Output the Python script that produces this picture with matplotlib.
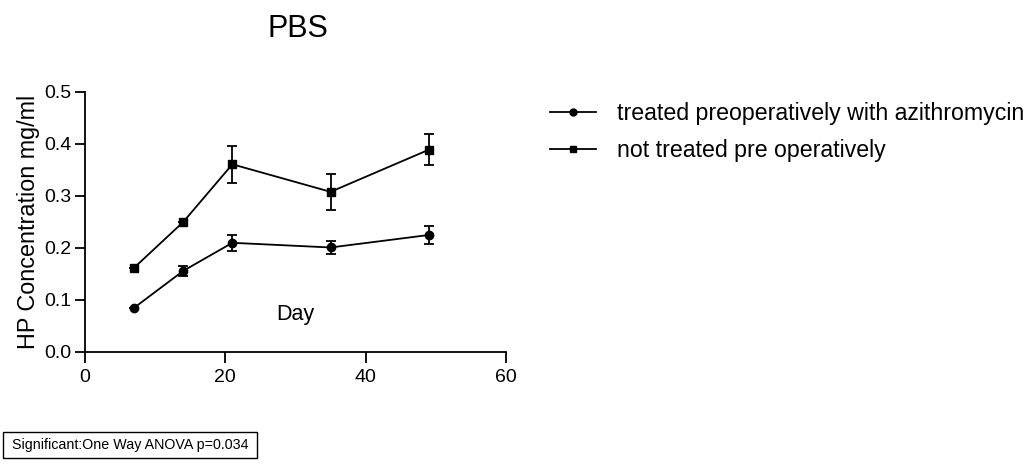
import matplotlib
matplotlib.use("Agg")
import matplotlib.pyplot as plt
from matplotlib.lines import Line2D
from matplotlib.patches import Rectangle

plt.rcParams['font.family'] = ['Liberation Sans', 'DejaVu Sans']

days = [7, 14, 21, 35, 49]
treated = [0.085, 0.156, 0.210, 0.201, 0.225]
treated_err = [0.0, 0.009, 0.015, 0.012, 0.017]
untreated = [0.162, 0.250, 0.361, 0.308, 0.389]
untreated_err = [0.0, 0.0, 0.036, 0.034, 0.030]
labels = ["treated preoperatively with azithromycin", "not treated pre operatively"]
xticks = [0, 20, 40, 60]
yticks = [0.0, 0.1, 0.2, 0.3, 0.4, 0.5]

W, H = 1034, 466
fig = plt.figure(figsize=(W / 100, H / 100), dpi=100)
ax = fig.add_axes([85 / W, (H - 352) / H, 421 / W, 260 / H])

ax.errorbar(days, treated, yerr=treated_err, color='black', lw=1.3, marker='o',
            ms=6, capsize=3.6, elinewidth=1.3, capthick=1.3)
ax.errorbar(days, untreated, yerr=untreated_err, color='black', lw=1.3, marker='s',
            ms=6, capsize=3.6, elinewidth=1.3, capthick=1.3)

ax.set_xlim(0, 60)
ax.set_ylim(0, 0.5)
ax.set_xticks(xticks)
ax.set_yticks(yticks)
ax.set_xticklabels([str(t) for t in xticks])
ax.set_yticklabels([f"{t:.1f}" for t in yticks])
for s in ['top', 'right']:
    ax.spines[s].set_visible(False)
for s in ['left', 'bottom']:
    ax.spines[s].set_linewidth(1.3)
ax.tick_params(axis='x', labelsize=14, width=1.3, length=8, direction='out', pad=4)
ax.tick_params(axis='y', labelsize=14, width=1.3, length=7, direction='out', pad=3)
ax.set_ylabel("HP Concentration mg/ml", fontsize=16.8, labelpad=3)
ax.text(30, 0.073, "Day", fontsize=15.5, ha='center', va='center')

fig.text(298 / W, 1 - 37 / H, "PBS", fontsize=22, ha='center', va='baseline')

lh = [Line2D([], [], color='black', lw=1.3, marker='o', ms=5),
      Line2D([], [], color='black', lw=1.3, marker='s', ms=5)]
fig.legend(lh, labels, loc='upper left', bbox_to_anchor=(550 / W, 1 - 102 / H),
           frameon=False, fontsize=16.7, handlelength=2.0, handletextpad=0.9,
           labelspacing=0.62, borderaxespad=0, borderpad=0)

fig.patches.append(Rectangle((3 / W, (H - 458) / H), 254 / W, 26 / H,
                             transform=fig.transFigure, fill=False,
                             ec='black', lw=1))
fig.text(12 / W, 1 - 445 / H, "Significant:One Way ANOVA p=0.034", fontsize=10.3,
         ha='left', va='center')

fig.savefig("out.png", dpi=100)
